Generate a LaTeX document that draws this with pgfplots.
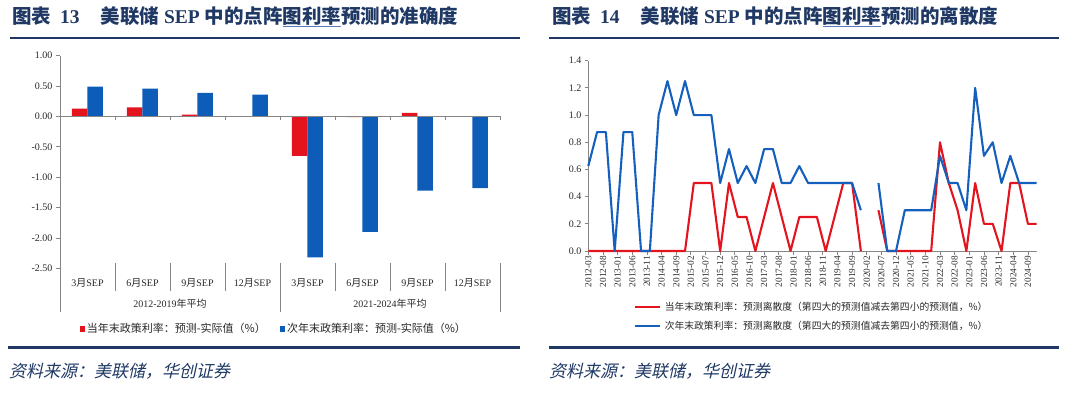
\documentclass[border=0pt]{standalone}
\usepackage{pgfplots}
\pgfplotsset{compat=1.18}
\usepackage{fontspec}
\setmainfont{Liberation Serif}
\newfontfamily\cjk{Noto Sans CJK SC}
\newfontfamily\cjkit[FakeSlant=0.22]{Noto Sans CJK SC}
\definecolor{bred}{RGB}{228,20,30}
\definecolor{bblue}{RGB}{12,92,184}
\definecolor{lblue}{RGB}{21,96,189}
\definecolor{navy}{RGB}{31,56,100}
\definecolor{ulblue}{RGB}{90,120,190}
\definecolor{axgray}{RGB}{134,134,134}
\definecolor{txt}{RGB}{40,40,40}
\newcommand{\bul}[1]{\setbox0=\hbox{#1}\rlap{\color{ulblue}\rule[-3pt]{\wd0}{0.9pt}}\box0}
\begin{document}
\begin{tikzpicture}
\path[use as bounding box] (0pt,0pt) rectangle (1080pt,-395pt);
% titles
\node[anchor=west, text=navy, inner sep=0pt, font=\fontsize{19.5}{20}\selectfont\bfseries] at (12pt,-17pt)
  {{\cjk 图表}\hspace{9pt}13\hspace{21pt}{\cjk 美联储} SEP {\cjk 中的点阵\bul{图利率}预测的准确度}};
\node[anchor=west, text=navy, inner sep=0pt, font=\fontsize{19.5}{20}\selectfont\bfseries] at (552pt,-17pt)
  {{\cjk 图表}\hspace{9pt}14\hspace{21pt}{\cjk 美联储} SEP {\cjk 中的点阵\bul{图利率}预测的离散度}};
\draw[navy, line width=1.6pt] (10pt,-38pt) -- (520pt,-38pt);
\draw[navy, line width=1.6pt] (549pt,-38pt) -- (1059pt,-38pt);
\draw[navy, line width=3pt] (8pt,-348pt) -- (520pt,-348pt);
\draw[navy, line width=3pt] (549pt,-348pt) -- (1059pt,-348pt);
\node[anchor=west, text=navy, inner sep=0pt, font=\cjkit\fontsize{17}{17}\selectfont] at (9pt,-371pt) {资料来源：美联储，华创证券};
\node[anchor=west, text=navy, inner sep=0pt, font=\cjkit\fontsize{17}{17}\selectfont] at (549pt,-371pt) {资料来源：美联储，华创证券};

% ---------- left chart ----------
\begin{axis}[
  at={(60pt,-268.3pt)}, anchor=south west, scale only axis,
  width=440pt, height=212.6pt,
  xmin=0.5, xmax=8.5, ymin=-2.5, ymax=1.0,
  axis x line=none, axis y line*=left,
  ytick={-2.5,-2,-1.5,-1,-0.5,0,0.5,1},
  yticklabels={-2.50,-2.00,-1.50,-1.00,-0.50,0.00,0.50,1.00},
  y axis line style={axgray, line width=0.8pt, -},
  ytick style={axgray, line width=0.8pt},
  major tick length=4pt, tick align=outside,
  yticklabel style={font=\fontsize{10}{10}\selectfont, text=txt},
  ybar=0pt, bar width=15.5pt,
  clip=false,
  legend columns=2,
  legend image code/.code={\fill[#1] (0pt,-2.6pt) rectangle (5.2pt,2.6pt);},
  legend style={at={(axis description cs:0.486,-0.2855)}, anchor=center, draw=none, fill=none,
    font=\cjk\fontsize{11}{11}\selectfont, text=txt,
    /tikz/every even column/.append style={column sep=12pt}},
]
\addplot[fill=bred, draw=none] coordinates {(1,0.13)(2,0.15)(3,0.03)(4,0)(5,-0.65)(6,-0.01)(7,0.06)(8,0)};
\addlegendentry{当年末政策利率：预测-实际值（\%）}
\addplot[fill=bblue, draw=none] coordinates {(1,0.49)(2,0.46)(3,0.39)(4,0.36)(5,-2.32)(6,-1.90)(7,-1.22)(8,-1.18)};
\addlegendentry{次年末政策利率：预测-实际值（\%）}
\draw[axgray, line width=0.8pt] (axis cs:0.5,0) -- (axis cs:8.5,0);
\pgfplotsinvokeforeach{1.5,2.5,3.5,4.5,5.5,6.5,7.5,8.5}{
  \draw[axgray, line width=0.8pt] (axis cs:#1,0) -- ([yshift=-4pt]axis cs:#1,0);
}
\pgfplotsinvokeforeach{1.5,2.5,3.5,5.5,6.5,7.5}{
  \draw[axgray, line width=0.8pt] ([yshift=5pt]axis cs:#1,-2.5) -- ([yshift=-23pt]axis cs:#1,-2.5);
}
\pgfplotsinvokeforeach{0.5,4.5,8.5}{
  \draw[axgray, line width=0.8pt] ([yshift=5pt]axis cs:#1,-2.5) -- ([yshift=-44pt]axis cs:#1,-2.5);
}
\node[text=txt, font=\fontsize{10}{10}\selectfont, inner sep=0pt] at ([yshift=-15pt]axis cs:1,-2.5) {3{\cjk 月}SEP};
\node[text=txt, font=\fontsize{10}{10}\selectfont, inner sep=0pt] at ([yshift=-15pt]axis cs:2,-2.5) {6{\cjk 月}SEP};
\node[text=txt, font=\fontsize{10}{10}\selectfont, inner sep=0pt] at ([yshift=-15pt]axis cs:3,-2.5) {9{\cjk 月}SEP};
\node[text=txt, font=\fontsize{10}{10}\selectfont, inner sep=0pt] at ([yshift=-15pt]axis cs:4,-2.5) {12{\cjk 月}SEP};
\node[text=txt, font=\fontsize{10}{10}\selectfont, inner sep=0pt] at ([yshift=-15pt]axis cs:5,-2.5) {3{\cjk 月}SEP};
\node[text=txt, font=\fontsize{10}{10}\selectfont, inner sep=0pt] at ([yshift=-15pt]axis cs:6,-2.5) {6{\cjk 月}SEP};
\node[text=txt, font=\fontsize{10}{10}\selectfont, inner sep=0pt] at ([yshift=-15pt]axis cs:7,-2.5) {9{\cjk 月}SEP};
\node[text=txt, font=\fontsize{10}{10}\selectfont, inner sep=0pt] at ([yshift=-15pt]axis cs:8,-2.5) {12{\cjk 月}SEP};
\node[text=txt, font=\fontsize{10}{10}\selectfont, inner sep=0pt] at ([yshift=-35pt]axis cs:2.5,-2.5) {2012-2019{\cjk 年平均}};
\node[text=txt, font=\fontsize{10}{10}\selectfont, inner sep=0pt] at ([yshift=-35pt]axis cs:6.5,-2.5) {2021-2024{\cjk 年平均}};
\end{axis}

% ---------- right chart ----------
\begin{axis}[
  at={(588.3pt,-251pt)}, anchor=south west, scale only axis,
  width=448.4pt, height=190.3pt,
  xmin=0, xmax=153, ymin=0, ymax=1.4,
  axis x line*=bottom, axis y line*=left,
  axis line style={axgray, line width=0.8pt, -},
  tick style={axgray, line width=0.8pt},
  major tick length=3.5pt, tick align=outside,
  ytick={0,0.2,0.4,0.6,0.8,1.0,1.2,1.4},
  yticklabels={0.0,0.2,0.4,0.6,0.8,1.0,1.2,1.4},
  yticklabel style={font=\fontsize{10}{10}\selectfont, text=txt},
  xtick={0,5,...,150},
  xticklabels={2012-03,2012-08,2013-01,2013-06,2013-11,2014-04,2014-09,2015-02,2015-07,2015-12,2016-05,2016-10,2017-03,2017-08,2018-01,2018-06,2018-11,2019-04,2019-09,2020-02,2020-07,2020-12,2021-05,2021-10,2022-03,2022-08,2023-01,2023-06,2023-11,2024-04,2024-09},
  xticklabel style={rotate=90, anchor=east, font=\fontsize{9.3}{9.3}\selectfont, text=txt, inner sep=1.5pt},
  unbounded coords=jump,
  clip=false,
  legend cell align=left,
  legend image code/.code={\draw[#1] (0pt,0pt) -- (25pt,0pt);},
  legend style={at={(axis description cs:0.094,-0.344)}, anchor=west, draw=none, fill=none,
    font=\cjk\fontsize{9.8}{10}\selectfont, text=txt, row sep=5pt,
    /tikz/every odd column/.append style={column sep=2pt}},
]
\addplot[bred, line width=2.1pt, line join=round] coordinates {
(0,0)(3,0)(6,0)(9,0)(12,0)(15,0)(18,0)(21,0)(24,0)(27,0)(30,0)(33,0)
(36,0.5)(39,0.5)(42,0.5)(45,0)(48,0.5)(51,0.25)(54,0.25)(57,0)(60,0.25)(63,0.5)
(66,0.25)(69,0)(72,0.25)(75,0.25)(78,0.25)(81,0)(84,0.25)(87,0.5)(90,0.5)(93,0)
(96,nan)(99,0.3)(102,0)(105,0)(108,0)(111,0)(114,0)(117,0)(120,0.8)(123,0.5)
(126,0.3)(129,0)(132,0.5)(135,0.2)(138,0.2)(141,0)(144,0.5)(147,0.5)(150,0.2)(153,0.2)};
\addlegendentry{当年末政策利率：预测离散度（第四大的预测值减去第四小的预测值，\%）}
\addplot[lblue, line width=2.1pt, line join=round] coordinates {
(0,0.625)(3,0.875)(6,0.875)(9,0)(12,0.875)(15,0.875)(18,0)(21,0)(24,1.0)(27,1.25)
(30,1.0)(33,1.25)(36,1.0)(39,1.0)(42,1.0)(45,0.5)(48,0.75)(51,0.5)(54,0.625)(57,0.5)
(60,0.75)(63,0.75)(66,0.5)(69,0.5)(72,0.625)(75,0.5)(78,0.5)(81,0.5)(84,0.5)(87,0.5)
(90,0.5)(93,0.3)(96,nan)(99,0.5)(102,0)(105,0)(108,0.3)(111,0.3)(114,0.3)(117,0.3)
(120,0.7)(123,0.5)(126,0.5)(129,0.3)(132,1.2)(135,0.7)(138,0.8)(141,0.5)(144,0.7)
(147,0.5)(150,0.5)(153,0.5)};
\addlegendentry{次年末政策利率：预测离散度（第四大的预测值减去第四小的预测值，\%）}
\end{axis}
\end{tikzpicture}
\end{document}
